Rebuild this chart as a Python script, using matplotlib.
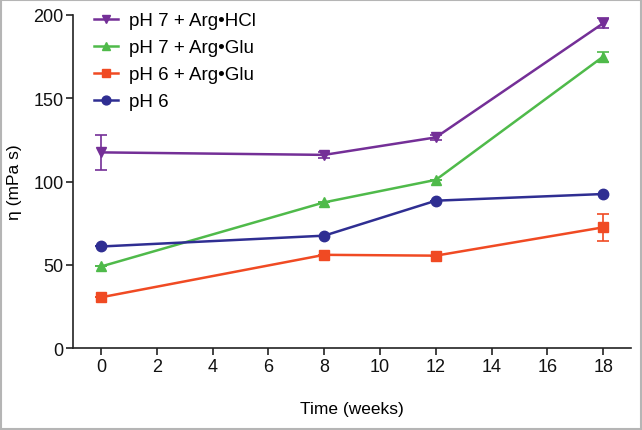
import matplotlib
matplotlib.use("Agg")
import matplotlib.pyplot as plt
from matplotlib.patches import Rectangle

plt.rcParams['font.family'] = ['Liberation Sans', 'DejaVu Sans']

weeks = [0, 8, 12, 18]
labels = ["pH 7 + Arg\u2022HCl", "pH 7 + Arg\u2022Glu", "pH 6 + Arg\u2022Glu", "pH 6"]
hcl7 = [117.5, 116, 126.5, 195]
hcl7_err = [10.5, 2, 1.5, 3]
glu7 = [49, 87.5, 101, 175]
glu7_err = [0, 0, 0, 3]
glu6 = [30.5, 56, 55.5, 72.5]
glu6_err = [0, 0, 0, 8]
ph6 = [61, 67.5, 88.5, 92.5]
ph6_err = [0, 0, 0, 0]

series = [hcl7, glu7, glu6, ph6]
errs = [hcl7_err, glu7_err, glu6_err, ph6_err]
colors = ["#742f97", "#4fba4a", "#f04a23", "#2f2e92"]
markers = ["v", "^", "s", "o"]
msizes = [7.5, 7.5, 7, 7.5]

fig = plt.figure(figsize=(6.42, 4.31), dpi=100)
ax = fig.add_axes([0.114, 0.19, 0.869, 0.773])

for ys, er, c, m, ms, lab in zip(series, errs, colors, markers, msizes, labels):
    ax.errorbar(weeks, ys, yerr=er, color=c, fmt='none',
                capsize=4, capthick=1.2, elinewidth=1.2)
    ax.plot(weeks, ys, color=c, marker=m, markersize=ms, lw=1.8, label=lab)

ax.set_xlim(-1, 19)
ax.set_ylim(0, 200)
ax.set_xticks(range(0, 19, 2))
ax.set_yticks([0, 50, 100, 150, 200])
ax.spines['top'].set_visible(False)
ax.spines['right'].set_visible(False)
for s in ['left', 'bottom']:
    ax.spines[s].set_linewidth(1.2)
    ax.spines[s].set_color('#222222')
ax.tick_params(labelsize=13, width=1.2, length=5, pad=2, colors='#222222', labelcolor='#111111')
ax.set_xlabel("Time (weeks)", fontsize=12.5, labelpad=19)
ax.set_ylabel("\u03b7 (mPa s)", fontsize=12.5, labelpad=8)

leg = ax.legend(loc='upper left', bbox_to_anchor=(0.037, 1.009), frameon=False,
                fontsize=13.5, handlelength=1.3, handletextpad=0.6,
                labelspacing=0.53, borderaxespad=0, borderpad=0, markerscale=0.85)

fig.patches.append(Rectangle((0.0015, 0.002), 0.997, 0.996, transform=fig.transFigure,
                             fill=False, edgecolor='#b5b5b5', lw=1.5))

fig.savefig("out.png", dpi=100)
